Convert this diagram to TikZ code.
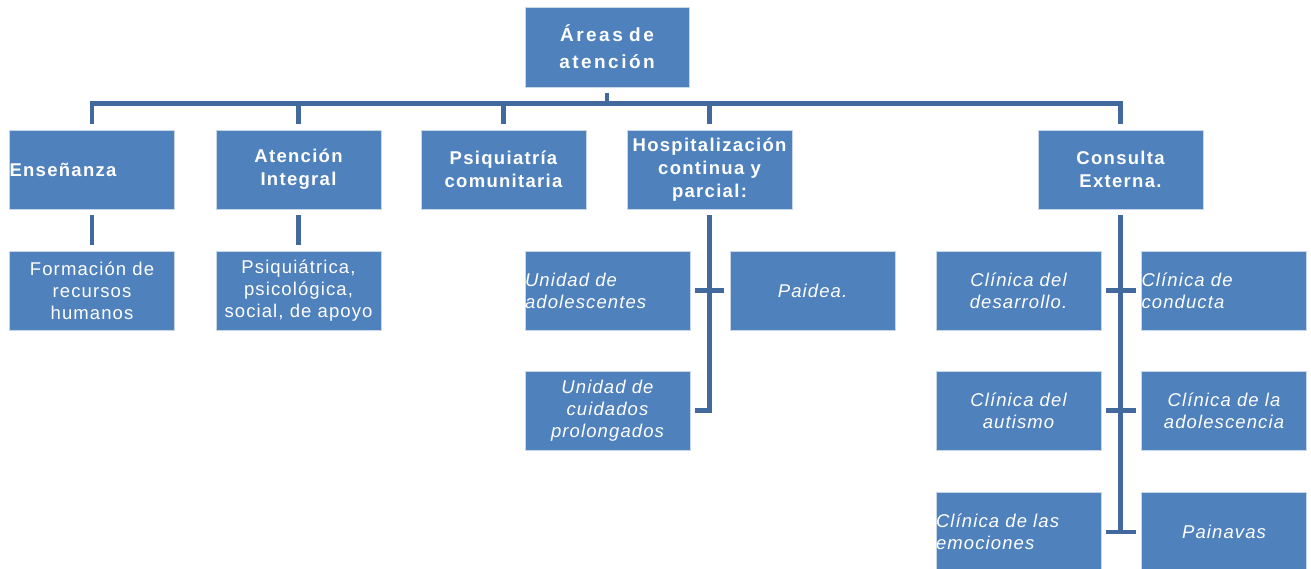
\documentclass[tikz,border=0pt]{standalone}
\usepackage{fontspec}
\setmainfont{Liberation Sans}
\newfontfamily\rootfont[LetterSpace=13]{Liberation Sans}
\newfontfamily\lvfont[LetterSpace=7]{Liberation Sans}
\newfontfamily\leaffont[LetterSpace=6]{Liberation Sans}
\definecolor{boxblue}{HTML}{4F81BD}
\definecolor{boxedge}{HTML}{C8D6EA}
\definecolor{linkblue}{HTML}{41699E}
\begin{document}
\begin{tikzpicture}[x=1pt,y=-1pt,
  box/.style={rectangle, fill=boxblue, draw=boxedge, line width=0.8pt,
    text=white, inner xsep=0pt, inner ysep=2pt, minimum height=79pt,
    text width=165pt, align=center},
  rootbox/.style={box, text width=164pt, minimum height=80pt,
    font=\rootfont\bfseries\fontsize{19}{27}\selectfont},
  lvone/.style={box, font=\lvfont\bfseries\fontsize{18.5}{23}\selectfont},
  leaf/.style={box, font=\leaffont\fontsize{18.5}{22}\selectfont},
  leafit/.style={box, font=\leaffont\itshape\fontsize{18.5}{22}\selectfont},
  lft/.style={align=left},
  conn/.style={draw=linkblue, line width=4.5pt}]
\useasboundingbox (0,0) rectangle (1311,569);
\clip (0,0) rectangle (1311,569);
% root
\node[rootbox] (root) at (607,47) {Áreas de\\atención};
% level 1
\node[lvone,lft] (ens) at (92,169.5) {Enseñanza};
\node[lvone] (ate) at (298.5,169.5) {Atención\\Integral};
\node[lvone] (psi) at (503.5,169.5) {Psiquiatría\\comunitaria};
\node[lvone] (hos) at (709.5,169.5) {Hospitalización\\continua y\\parcial:};
\node[lvone] (con) at (1120.5,169.5) {Consulta\\Externa.};
% level 2
\node[leaf] (for) at (92,290.5) {Formación de\\recursos\\humanos};
\node[leaf] (psq) at (298.5,290.5) {Psiquiátrica,\\psicológica,\\social, de apoyo};
\node[leafit,lft] (uad) at (607.5,290.5) {Unidad de\\adolescentes};
\node[leafit] (pai) at (812.5,290.5) {Paidea.};
\node[leafit] (ucu) at (607.5,410.5) {Unidad de\\cuidados\\prolongados};
\node[leafit] (cde) at (1018.5,290.5) {Clínica del\\desarrollo.};
\node[leafit,lft] (cco) at (1224,290.5) {Clínica de\\conducta};
\node[leafit] (cau) at (1018.5,410.5) {Clínica del\\autismo};
\node[leafit] (cad) at (1224,410.5) {Clínica de la\\adolescencia};
\node[leafit,lft] (cem) at (1018.5,532) {Clínica de las\\emociones};
\node[leafit] (pain) at (1224,532) {Painavas};
% connectors level 0 -> 1
\draw[conn] ([yshift=-6pt]root.south) -- ([yshift=-18pt]root.south);
\draw[conn,line join=miter] ([yshift=6pt]ens.north) -- ([yshift=26pt]ens.north)
   -- ([yshift=26pt]con.north) -- ([yshift=6pt]con.north);
\foreach \n in {ate,psi,hos}
  \draw[conn] ([yshift=6pt]\n.north) -- ([yshift=26pt]\n.north);
% level 1 -> 2
\draw[conn] ([yshift=-6pt]ens.south) -- ([yshift=6pt]for.north);
\draw[conn] ([yshift=-6pt]ate.south) -- ([yshift=6pt]psq.north);
\draw[conn,line join=miter] ([yshift=-6pt]hos.south) |- ([xshift=5pt]ucu.east);
\draw[conn] ([xshift=5pt]uad.east) -- ([xshift=-6pt]pai.west);
\draw[conn] ([yshift=-6pt]con.south) -- (con.south |- cem.east);
\draw[conn] ([xshift=5pt]cde.east) -- ([xshift=-5pt]cco.west);
\draw[conn] ([xshift=5pt]cau.east) -- ([xshift=-5pt]cad.west);
\draw[conn] ([xshift=5pt]cem.east) -- ([xshift=-5pt]pain.west);
\end{tikzpicture}
\end{document}
